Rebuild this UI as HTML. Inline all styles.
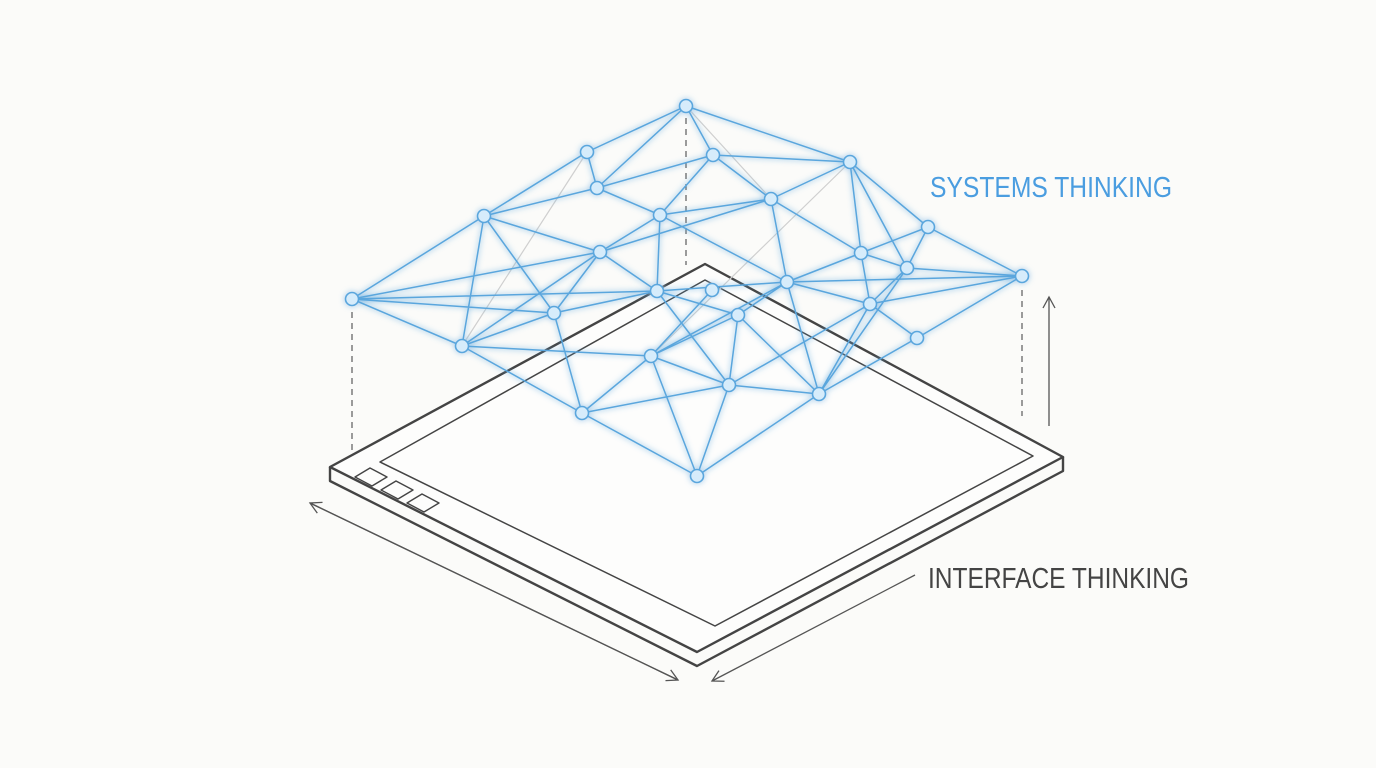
<!DOCTYPE html>
<html><head><meta charset="utf-8"><style>
html,body{margin:0;padding:0;background:#fbfbf9;}
svg{display:block}
</style></head><body>
<svg width="1376" height="768" viewBox="0 0 1376 768" xmlns="http://www.w3.org/2000/svg">
<defs>
<filter id="glow" x="-20%" y="-20%" width="140%" height="140%">
<feGaussianBlur stdDeviation="3" result="b"/>
<feMerge><feMergeNode in="b"/><feMergeNode in="SourceGraphic"/></feMerge>
</filter>
<marker id="ah" markerWidth="14" markerHeight="14" refX="12" refY="7" orient="auto" markerUnits="userSpaceOnUse">
<path d="M1,1 L12,7 L1,13" fill="none" stroke="#555" stroke-width="1.3"/>
</marker>
</defs>
<rect width="1376" height="768" fill="#fbfbf9"/>

<!-- dashed verticals -->
<g stroke="#666" stroke-width="1.3" stroke-dasharray="6,5" fill="none">
<line x1="352" y1="312" x2="352" y2="452"/>
<line x1="686" y1="118" x2="686" y2="265"/>
<line x1="697" y1="490" x2="697" y2="622"/>
<line x1="1022" y1="290" x2="1022" y2="416"/>
</g>

<!-- tablet -->
<g fill="none" stroke="#444" stroke-linejoin="round">
<path d="M330,467 L705,264 L1063,457 L697,652 Z" fill="#fdfdfc" stroke-width="2.4"/>
<path d="M330,467 L330,481 L697,666 L1063,471 L1063,457" stroke-width="2.4"/>
<path d="M380,462 L705,280 L1033,456 L715,626 Z" stroke-width="1.5"/>
<path d="M355,477 L370,468 L387,477 L372,486 Z" stroke-width="1.4"/>
<path d="M381,490 L396,481 L413,490 L398,499 Z" stroke-width="1.4"/>
<path d="M407,503 L422,494 L439,503 L424,512 Z" stroke-width="1.4"/>
</g>

<!-- arrows -->
<g stroke="#555" stroke-width="1.3" fill="none">
<line x1="678" y1="680" x2="310" y2="503" marker-end="url(#ah)"/>
<line x1="310" y1="503" x2="678" y2="680" marker-end="url(#ah)"/>
<line x1="915" y1="575" x2="712" y2="681" marker-end="url(#ah)"/>
<line x1="1049" y1="426" x2="1049" y2="297" marker-end="url(#ah)"/>
</g>

<!-- network -->
<g stroke="#cfcfcf" stroke-width="1.2">
<line x1="686" y1="106" x2="771" y2="199"/>
<line x1="850" y1="162" x2="651" y2="356"/>
<line x1="587" y1="152" x2="462" y2="346"/>
</g>
<g filter="url(#glow)">
<g stroke="#5aa6dd" stroke-width="1.5" fill="none" id="edges">
<path d="
M686,106L587,152 M686,106L713,155 M686,106L850,162 M686,106L597,188
M587,152L597,188 M587,152L484,216
M713,155L597,188 M713,155L660,215 M713,155L771,199 M713,155L850,162
M850,162L771,199 M850,162L928,227 M850,162L861,253 M850,162L907,268
M597,188L660,215 M597,188L484,216
M484,216L600,252 M484,216L462,346 M484,216L554,313
M660,215L600,252 M660,215L657,291 M660,215L771,199 M660,215L787,282
M771,199L787,282 M771,199L861,253 M771,199L600,252
M928,227L861,253 M928,227L1022,276 M928,227L907,268
M600,252L352,299 M600,252L554,313 M600,252L462,346 M600,252L657,291
M861,253L787,282 M861,253L907,268 M861,253L870,304
M907,268L1022,276 M907,268L870,304 M907,268L819,394
M1022,276L870,304 M1022,276L917,338 M1022,276L787,282
M352,299L484,216 M352,299L554,313 M352,299L462,346 M352,299L657,291
M657,291L787,282 M657,291L738,315 M657,291L729,385 M657,291L554,313
M712,290L651,356
M787,282L738,315 M787,282L870,304 M787,282L819,394 M787,282L651,356
M554,313L462,346 M554,313L582,413
M870,304L917,338 M870,304L819,394 M870,304L729,385
M738,315L729,385 M738,315L651,356
M462,346L582,413 M462,346L651,356
M651,356L729,385 M651,356L582,413 M651,356L697,476
M729,385L819,394 M729,385L697,476 M729,385L582,413
M819,394L697,476 M819,394L917,338 M819,394L738,315
M582,413L697,476"/>
</g>
<g fill="#d6ecfb" stroke="#5aa6dd" stroke-width="1.6">
<circle cx="686" cy="106" r="6.5"/><circle cx="587" cy="152" r="6.5"/><circle cx="713" cy="155" r="6.5"/>
<circle cx="850" cy="162" r="6.5"/><circle cx="597" cy="188" r="6.5"/><circle cx="484" cy="216" r="6.5"/>
<circle cx="660" cy="215" r="6.5"/><circle cx="771" cy="199" r="6.5"/><circle cx="928" cy="227" r="6.5"/>
<circle cx="600" cy="252" r="6.5"/><circle cx="861" cy="253" r="6.5"/><circle cx="907" cy="268" r="6.5"/>
<circle cx="1022" cy="276" r="6.5"/><circle cx="352" cy="299" r="6.5"/><circle cx="657" cy="291" r="6.5"/>
<circle cx="712" cy="290" r="6.5"/><circle cx="787" cy="282" r="6.5"/><circle cx="554" cy="313" r="6.5"/>
<circle cx="870" cy="304" r="6.5"/><circle cx="738" cy="315" r="6.5"/><circle cx="462" cy="346" r="6.5"/>
<circle cx="917" cy="338" r="6.5"/><circle cx="651" cy="356" r="6.5"/><circle cx="729" cy="385" r="6.5"/>
<circle cx="819" cy="394" r="6.5"/><circle cx="582" cy="413" r="6.5"/><circle cx="697" cy="476" r="6.5"/>
</g>
</g>

<!-- labels -->
<text x="930" y="197" font-family="Liberation Sans, sans-serif" font-size="29" fill="#4a9de0" textLength="242" lengthAdjust="spacingAndGlyphs">SYSTEMS THINKING</text>
<text x="928" y="588" font-family="Liberation Sans, sans-serif" font-size="29" fill="#444" textLength="261" lengthAdjust="spacingAndGlyphs">INTERFACE THINKING</text>
</svg>
</body></html>
